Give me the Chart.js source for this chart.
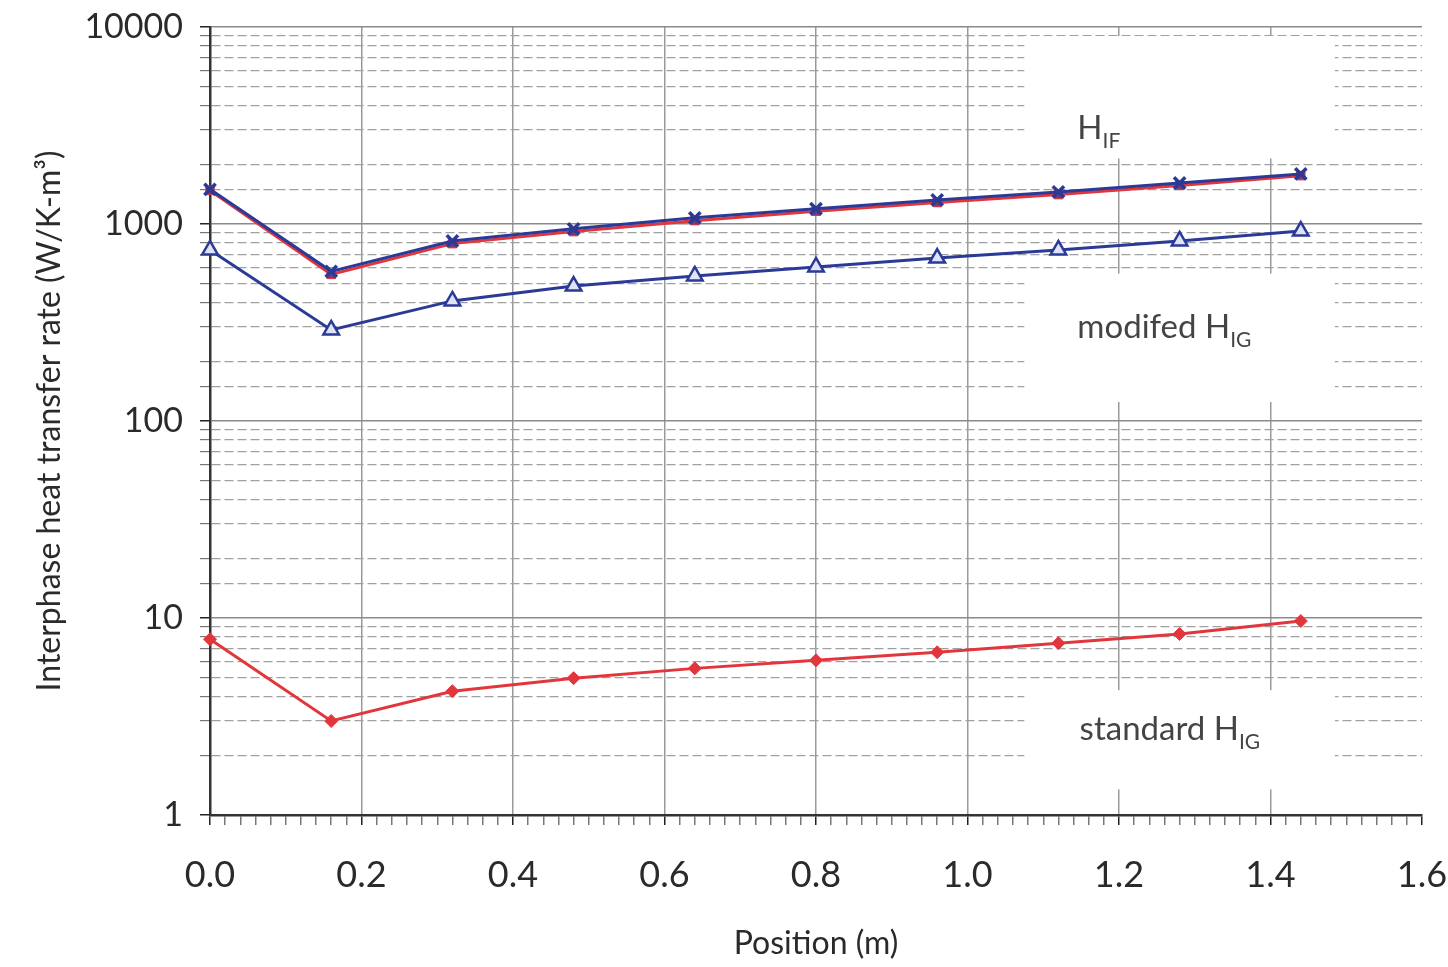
<!DOCTYPE html>
<html>
<head>
<meta charset="utf-8">
<script src="https://cdn.jsdelivr.net/npm/chart.js@4.4.1/dist/chart.umd.min.js"></script>
<style>
  html, body { margin: 0; padding: 0; background: #fff; }
  #wrap { width: 1448px; height: 967px; }
</style>
</head>
<body>
<div id="wrap"><canvas id="heatChart"></canvas></div>
<script>
// positions along the bed (m)
var positions = [0, 0.16, 0.32, 0.48, 0.64, 0.80, 0.96, 1.12, 1.28, 1.44];

// interphase heat transfer rates (W/K-m3)
var hifRed = [1480, 555, 795, 915, 1040, 1160, 1285, 1410, 1570, 1760];
var hifBlue = [1500, 575, 820, 945, 1075, 1195, 1325, 1455, 1615, 1795];
var higModified = [738, 290, 407, 484, 545, 605, 672, 738, 820, 921];
var higStandard = [7.8, 3.0, 4.25, 4.95, 5.55, 6.1, 6.7, 7.45, 8.3, 9.65];

// curve labels: [main text, subscript, x, y]
var curveLabels = [
    ['H', 'IF', 1.145, 2700],
    ['modifed H', 'IG', 1.145, 265],
    ['standard H', 'IG', 1.148, 2.4]
];
// white boxes behind the labels: [x0, x1, yTop, yBottom]
var labelBoxes = [
    [1.075, 1.485, 9000, 2150],
    [1.075, 1.485, 560, 125],
    [1.075, 1.485, 4.3, 1.35]
];

var FONT = 'Lato, "DejaVu Sans", sans-serif';

function pts(ys) {
    return positions.map(function (x, i) { return { x: x, y: ys[i] }; });
}

function isDecade(v) {
    var l = Math.log10(v);
    return Math.abs(l - Math.round(l)) < 1e-9;
}

function isMajorX(v) {
    return Math.round(v * 100) % 20 === 0;
}

var labelPlugin = {
    id: 'curveLabels',
    beforeDatasetsDraw: function (chart) {
        var ctx = chart.ctx;
        var xs = chart.scales.x, ys = chart.scales.y;
        ctx.save();
        ctx.fillStyle = '#ffffff';
        labelBoxes.forEach(function (b) {
            var x0 = xs.getPixelForValue(b[0]), x1 = xs.getPixelForValue(b[1]);
            var y0 = ys.getPixelForValue(b[2]), y1 = ys.getPixelForValue(b[3]);
            ctx.fillRect(x0, y0, x1 - x0, y1 - y0);
        });
        ctx.fillStyle = '#444';
        ctx.textBaseline = 'alphabetic';
        ctx.textAlign = 'left';
        curveLabels.forEach(function (l) {
            var x = xs.getPixelForValue(l[2]);
            var y = ys.getPixelForValue(l[3]);
            ctx.font = '33px ' + FONT;
            ctx.fillText(l[0], x, y);
            var w = ctx.measureText(l[0]).width;
            ctx.font = '21px ' + FONT;
            ctx.fillText(l[1], x + w, y + 9);
        });
        ctx.restore();
    }
};

var RED = '#e2363c';
var BLUE = '#2b3a96';

var canvas = document.getElementById('heatChart');
var ctx = canvas.getContext('2d');

var chart = new Chart(ctx, {
    type: 'line',
    data: {
        datasets: [{
            label: 'standard HIG',
            data: pts(higStandard),
            borderColor: RED,
            backgroundColor: RED,
            borderWidth: 3,
            pointStyle: 'rectRot',
            pointRadius: 6.5,
            pointBorderWidth: 1,
            clip: false
        }, {
            label: 'modified HIG',
            data: pts(higModified),
            borderColor: BLUE,
            backgroundColor: '#dfe3f5',
            borderWidth: 3,
            pointStyle: 'triangle',
            pointRadius: 9,
            pointBorderWidth: 2.5,
            clip: false
        }, {
            label: 'HIF (blue)',
            data: pts(hifBlue),
            borderColor: BLUE,
            backgroundColor: BLUE,
            borderWidth: 3,
            pointStyle: 'crossRot',
            pointRadius: 8,
            pointBorderWidth: 3.5,
            clip: false
        }, {
            label: 'HIF (red)',
            data: pts(hifRed),
            borderColor: RED,
            backgroundColor: '#7a3a6a',
            borderWidth: 3,
            pointStyle: 'rect',
            pointRadius: 6,
            pointBorderWidth: 1,
            clip: false
        }]
    },
    plugins: [labelPlugin],
    options: {
        responsive: true,
        maintainAspectRatio: false,
        animation: false,
        layout: { padding: { top: 27, right: 26, left: 0, bottom: 0 } },
        elements: { line: { tension: 0 } },
        plugins: {
            legend: { display: false },
            tooltip: { enabled: false }
        },
        scales: {
            x: {
                type: 'linear',
                min: 0,
                max: 1.6,
                ticks: {
                    stepSize: 0.02,
                    autoSkip: false,
                    maxRotation: 0,
                    padding: 29,
                    color: '#2a2a2a',
                    font: { family: FONT, size: 36 },
                    callback: function (v) {
                        return isMajorX(v) ? v.toFixed(1) : '';
                    }
                },
                grid: {
                    tickLength: 10,
                    lineWidth: 1.5,
                    color: function (c) {
                        var v = c.tick ? c.tick.value : 0;
                        if (v > 1.59) return 'rgba(0,0,0,0)';
                        return isMajorX(v) ? '#9a9a9a' : 'rgba(0,0,0,0)';
                    },
                    tickColor: function (c) {
                        var v = c.tick ? c.tick.value : 0;
                        return isMajorX(v) ? '#222' : '#777';
                    }
                },
                border: { display: true, color: '#333', width: 2.5 },
                title: {
                    display: true,
                    text: 'Position (m)',
                    color: '#2a2a2a',
                    font: { family: FONT, size: 32 },
                    padding: { top: 0, bottom: 4 }
                },
                afterFit: function (s) {
                    s.height = 152;
                    s.paddingLeft = 0;
                    s.paddingRight = 0;
                }
            },
            y: {
                type: 'logarithmic',
                min: 1,
                max: 10000,
                ticks: {
                    autoSkip: false,
                    padding: 17,
                    color: '#2a2a2a',
                    font: { family: FONT, size: 34 },
                    callback: function (v) {
                        return isDecade(v) ? String(Math.round(v)) : '';
                    }
                },
                grid: {
                    tickLength: 10,
                    lineWidth: function (c) {
                        var v = c.tick ? c.tick.value : 1;
                        return isDecade(v) ? 1.5 : 1.2;
                    },
                    color: function (c) {
                        var v = c.tick ? c.tick.value : 1;
                        return isDecade(v) ? '#8a8a8a' : '#a0a0a0';
                    },
                    tickColor: function (c) {
                        var v = c.tick ? c.tick.value : 1;
                        return isDecade(v) ? '#222' : '#777';
                    }
                },
                border: {
                    display: true,
                    color: '#333',
                    width: 2.5,
                    dash: function (c) {
                        var v = c.tick ? c.tick.value : 1;
                        return isDecade(v) ? [] : [9, 4];
                    }
                },
                title: {
                    display: true,
                    text: 'Interphase heat transfer rate (W/K-m³)',
                    color: '#2a2a2a',
                    font: { family: FONT, size: 32 },
                    padding: { top: 30, bottom: 0 }
                },
                afterFit: function (s) {
                    s.width = 210;
                    s.paddingTop = 0;
                    s.paddingBottom = 0;
                }
            }
        }
    }
});
</script>
</body>
</html>
